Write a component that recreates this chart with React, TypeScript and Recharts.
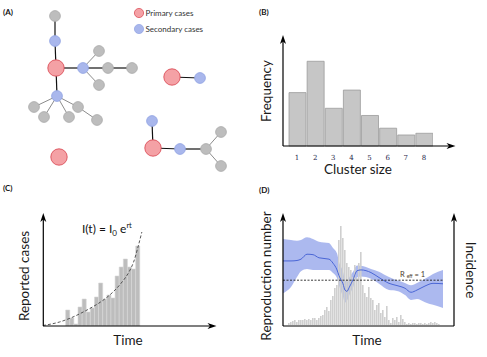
import React from 'react';
import {
  ScatterChart,
  Scatter,
  BarChart,
  Bar,
  ComposedChart,
  Line,
  Area,
  XAxis,
  YAxis,
  ReferenceLine,
} from 'recharts';

const FONT = 'Lato, "Open Sans", sans-serif';

// (A) transmission clusters: node positions
const primaryCases = [
  { x: 56, y: 68 }, { x: 172, y: 77 }, { x: 153, y: 148 }, { x: 59, y: 157 },
];
const secondaryCases = [
  { x: 55, y: 41 }, { x: 83, y: 68 }, { x: 57, y: 96 },
  { x: 200, y: 78 }, { x: 152, y: 121 }, { x: 180, y: 149 },
];
const laterCases = [
  { x: 55, y: 16 }, { x: 99, y: 51 }, { x: 108, y: 68 }, { x: 132, y: 68 },
  { x: 99, y: 85 }, { x: 34, y: 107 }, { x: 44, y: 117 }, { x: 69, y: 117 },
  { x: 78, y: 107 }, { x: 97, y: 120 }, { x: 206, y: 149 }, { x: 221, y: 132 },
  { x: 221, y: 166 },
];
// [x1, y1, x2, y2]
const strongLinks = [
  [55, 16, 55, 41], [55, 41, 56, 68], [56, 68, 83, 68], [83, 68, 108, 68],
  [108, 68, 132, 68], [56, 68, 57, 96], [172, 77, 200, 78], [152, 121, 153, 148],
  [153, 148, 180, 149], [180, 149, 206, 149],
];
const weakLinks = [
  [83, 68, 99, 51], [83, 68, 99, 85], [57, 96, 34, 107], [57, 96, 44, 117],
  [57, 96, 69, 117], [57, 96, 78, 107], [78, 107, 97, 120], [206, 149, 221, 132],
  [206, 149, 221, 166],
];

// (B) cluster size distribution
const clusterSizes = ['1', '2', '3', '4', '5', '6', '7', '8'];
const clusterFreq = [6.3, 10, 4.45, 6.6, 3.6, 2.1, 1.3, 1.5];

// (C) early exponential growth
const caseDays = [6, 7, 8, 9, 10, 11, 12, 13, 14, 15, 16, 17, 18, 19, 20, 21, 22, 23];
const reportedCases = [16, 8, 2, 19, 27, 14, 18, 29, 43, 27, 31, 28, 50, 59, 67, 59, 57, 80];
const fitDays = [0, 4, 7, 10, 12, 15, 17, 19, 21, 22, 23, 24];
const fitCases = [0.5, 4, 8.5, 14.5, 19, 27, 34, 43, 55, 64, 78, 94];

// (D) reproduction number and incidence
const incidence = [
  2, 3, 4, 5, 3, 5, 5, 5, 6, 5, 6, 5, 7, 7, 5, 7, 9, 10, 15, 18,
  14, 25, 29, 37, 40, 85, 99, 87, 75, 62, 58, 55, 48, 60, 47, 62, 73, 40, 32, 28,
  38, 27, 25, 15, 20, 22, 12, 15, 8, 19, 5, 2, 7, 5, 8, 3, 10, 6, 3, 1,
  2, 1, 2, 2, 1, 2, 2, 1, 2, 1, 2, 3, 2, 3, 2, 1,
];
const firstIncidenceDay = 3;
const rDays = [0, 4, 7, 9, 12, 15, 18, 23, 25, 27, 28, 30, 31, 32, 33, 35, 37, 39, 44, 48, 53, 57, 61, 64, 67, 71, 75, 80];
const rMean = [1.43, 1.43, 1.44, 1.47, 1.58, 1.57, 1.5, 1.47, 1.38, 1.23, 1.1, 0.92, 0.78, 0.75, 0.83, 1.01, 1.21, 1.23, 1.17, 1.06, 0.93, 0.88, 0.82, 0.73, 0.78, 0.87, 0.93, 0.92];
const rLow = [0.71, 0.85, 1.07, 1.2, 1.25, 1.23, 1.23, 1.23, 1.16, 1.05, 0.89, 0.63, 0.5, 0.54, 0.65, 0.83, 1.06, 1.08, 1.03, 0.92, 0.78, 0.76, 0.67, 0.56, 0.58, 0.51, 0.45, 0.38];
const rHigh = [1.92, 1.9, 1.88, 1.9, 1.96, 1.92, 1.86, 1.83, 1.72, 1.6, 1.41, 1.19, 1.01, 0.96, 1.05, 1.19, 1.33, 1.32, 1.25, 1.19, 1.07, 1.0, 0.94, 0.89, 0.94, 1.03, 1.14, 1.23];

const clusterData = clusterSizes.map((s, i) => ({ size: s, freq: clusterFreq[i] }));

const growthData = fitDays.map((t) => {
  const row: any = { t, fit: fitCases[fitDays.indexOf(t)] };
  const k = caseDays.indexOf(t);
  if (k >= 0) row.cases = reportedCases[k];
  return row;
});
caseDays.forEach((t, k) => {
  if (fitDays.indexOf(t) < 0) growthData.push({ t, cases: reportedCases[k] });
});
growthData.sort((a, b) => a.t - b.t);

const incidenceData = incidence.map((v, i) => ({ d: firstIncidenceDay + i, inc: v }));
const rData = rDays.map((d, i) => ({ d, mean: rMean[i], band: [rLow[i], rHigh[i]] }));

const noShape = () => <g />;

const nodeShape = (r: number, fill: string, stroke: string) => (p: any) => (
  <circle cx={p.cx} cy={p.cy} r={r} fill={fill} stroke={stroke} strokeWidth={0.8} />
);

const upArrow = (x: number, y: number) =>
  `${x},${y} ${x - 3},${y + 9} ${x},${y + 6.5} ${x + 3},${y + 9}`;
const rightArrow = (x: number, y: number) =>
  `${x},${y} ${x - 9},${y - 3} ${x - 6.5},${y} ${x - 9},${y + 3}`;

const titleStyle = { fontFamily: FONT, fontSize: 13.5, fill: '#1a1a1a' };

const App: React.FC = () => {
  return (
    <div style={{ position: 'absolute', left: 0, top: 0, width: 487, height: 357, background: '#fff' }}>
      {/* (A) */}
      <div style={{ position: 'absolute', left: 0, top: 0 }}>
        <ScatterChart width={243} height={178} margin={{ top: 0, right: 0, bottom: 0, left: 0 }}>
          <XAxis type="number" dataKey="x" domain={[0, 243]} hide />
          <YAxis type="number" dataKey="y" domain={[0, 178]} reversed hide />
          {weakLinks.map((l, i) => (
            <Scatter
              key={'w' + i}
              data={[{ x: l[0], y: l[1] }, { x: l[2], y: l[3] }]}
              line={{ stroke: '#8c8c8c', strokeWidth: 1 }}
              shape={noShape}
              isAnimationActive={false}
            />
          ))}
          {strongLinks.map((l, i) => (
            <Scatter
              key={'s' + i}
              data={[{ x: l[0], y: l[1] }, { x: l[2], y: l[3] }]}
              line={{ stroke: '#111', strokeWidth: 1.2 }}
              shape={noShape}
              isAnimationActive={false}
            />
          ))}
          <Scatter data={laterCases} shape={nodeShape(5.4, '#bdbdbd', '#a9a9a9')} isAnimationActive={false} />
          <Scatter data={secondaryCases} shape={nodeShape(5.4, '#a9b7ec', '#8fa2e2')} isAnimationActive={false} />
          <Scatter data={primaryCases} shape={nodeShape(8.2, '#f4a1a5', '#d8414c')} isAnimationActive={false} />
        </ScatterChart>
      </div>

      {/* (B) */}
      <div style={{ position: 'absolute', left: 288, top: 35 }}>
        <BarChart width={145} height={131} data={clusterData} margin={{ top: 0, right: 0, bottom: 0, left: 0 }}>
          <XAxis
            dataKey="size"
            axisLine={false}
            tickLine={false}
            tickSize={0}
            tickMargin={9}
            height={20}
            interval={0}
            tick={{ fontSize: 7, fill: '#26264a', fontFamily: '"DejaVu Serif", serif' }}
          />
          <YAxis hide domain={[0, 13.1]} />
          <Bar dataKey="freq" barSize={17} fill="#c6c6c6" stroke="#9c9c9c" strokeWidth={0.8} isAnimationActive={false} />
        </BarChart>
      </div>

      {/* (C) */}
      <div style={{ position: 'absolute', left: 43, top: 213 }}>
        <ComposedChart width={173} height={113} data={growthData} margin={{ top: 0, right: 0, bottom: 0, left: 0 }}>
          <XAxis type="number" dataKey="t" domain={[0, 42]} hide />
          <YAxis type="number" domain={[0, 113]} hide />
          <Bar dataKey="cases" barSize={4.1} fill="#bdbdbd" stroke="#d6d6d6" strokeWidth={0.6} isAnimationActive={false} />
          <Line
            dataKey="fit"
            type="monotone"
            stroke="#444"
            strokeWidth={0.9}
            strokeDasharray="3 2"
            dot={false}
            connectNulls
            isAnimationActive={false}
          />
        </ComposedChart>
      </div>

      {/* (D) */}
      <div style={{ position: 'absolute', left: 283, top: 213 }}>
        <ComposedChart width={171} height={112} data={incidenceData} margin={{ top: 0, right: 0, bottom: 0, left: 0 }}>
          <XAxis type="number" dataKey="d" domain={[0, 85.5]} hide />
          <YAxis yAxisId="inc" type="number" domain={[0, 112]} hide />
          <YAxis yAxisId="r" type="number" domain={[0, 2.5]} hide />
          <Bar yAxisId="inc" dataKey="inc" barSize={1.6} fill="#cfcfcf" isAnimationActive={false} />
          <Area
            yAxisId="r"
            data={rData}
            dataKey="band"
            type="monotone"
            stroke="none"
            fill="#4664dc"
            fillOpacity={0.45}
            isAnimationActive={false}
          />
          <Line
            yAxisId="r"
            data={rData}
            dataKey="mean"
            type="monotone"
            stroke="#4a66d6"
            strokeWidth={1}
            dot={false}
            isAnimationActive={false}
          />
          <ReferenceLine
            yAxisId="r"
            segment={[{ x: 0, y: 1 }, { x: 80, y: 1 }]}
            stroke="#222"
            strokeWidth={0.9}
            strokeDasharray="2 1.5"
          />
        </ComposedChart>
      </div>

      <svg width={487} height={357} style={{ position: 'absolute', left: 0, top: 0, pointerEvents: 'none' }}>
        {/* panel letters */}
        <g style={{ fontFamily: FONT, fontSize: 8, fontWeight: 700, fill: '#111' }}>
          <text x={3} y={15}>(A)</text>
          <text x={259} y={15}>(B)</text>
          <text x={3} y={191}>(C)</text>
          <text x={259} y={193}>(D)</text>
        </g>

        {/* legend for (A) */}
        <circle cx={139} cy={13} r={4.6} fill="#f4a1a5" stroke="#d8414c" strokeWidth={0.7} />
        <circle cx={139} cy={29} r={4.6} fill="#a9b7ec" stroke="#8fa2e2" strokeWidth={0.7} />
        <g style={{ fontFamily: FONT, fontSize: 8, fill: '#333' }}>
          <text x={145.5} y={16}>Primary cases</text>
          <text x={145.5} y={32}>Secondary cases</text>
        </g>

        {/* (B) axes */}
        <line x1={283} y1={146} x2={283} y2={40} stroke="#000" strokeWidth={1.2} />
        <polygon points={upArrow(283, 35)} fill="#000" />
        <line x1={283} y1={146} x2={450} y2={146} stroke="#000" strokeWidth={1.2} />
        <polygon points={rightArrow(455.5, 146)} fill="#000" />
        <text transform="translate(271,91) rotate(-90)" textAnchor="middle" style={titleStyle}>Frequency</text>
        <text x={358} y={174} textAnchor="middle" style={titleStyle}>Cluster size</text>

        {/* (C) axes */}
        <line x1={43.3} y1={326} x2={43.3} y2={218} stroke="#000" strokeWidth={1.2} />
        <polygon points={upArrow(43.3, 213)} fill="#000" />
        <line x1={43} y1={326} x2={211} y2={326} stroke="#000" strokeWidth={1.2} />
        <polygon points={rightArrow(216.5, 326)} fill="#000" />
        <text transform="translate(29,276) rotate(-90)" textAnchor="middle" style={titleStyle}>Reported cases</text>
        <text x={128} y={345} textAnchor="middle" style={titleStyle}>Time</text>
        <text x={82} y={233} style={{ fontFamily: FONT, fontSize: 12, fill: '#111' }}>
          I(t) = I<tspan fontSize={8} dy={3}>0</tspan>
          <tspan dy={-3}> e</tspan>
          <tspan fontSize={7.5} dy={-5}>rt</tspan>
        </text>

        {/* (D) axes */}
        <line x1={283} y1={326} x2={283} y2={218} stroke="#000" strokeWidth={1.2} />
        <polygon points={upArrow(283, 213)} fill="#000" />
        <line x1={454} y1={326} x2={454} y2={218} stroke="#000" strokeWidth={1.2} />
        <polygon points={upArrow(454, 213)} fill="#000" />
        <line x1={283} y1={326} x2={454} y2={326} stroke="#000" strokeWidth={1.2} />
        <text transform="translate(271,276) rotate(-90)" textAnchor="middle" style={titleStyle}>Reproduction number</text>
        <text transform="translate(466,270) rotate(90)" textAnchor="middle" style={titleStyle}>Incidence</text>
        <text x={367} y={345} textAnchor="middle" style={titleStyle}>Time</text>
        <text x={400} y={276.5} style={{ fontFamily: FONT, fontSize: 7.5, fill: '#4a3a2a' }}>
          R <tspan fontSize={5} dy={1.5}>eff</tspan>
          <tspan dy={-1.5}> = 1</tspan>
        </text>
      </svg>
    </div>
  );
};

export default App;
